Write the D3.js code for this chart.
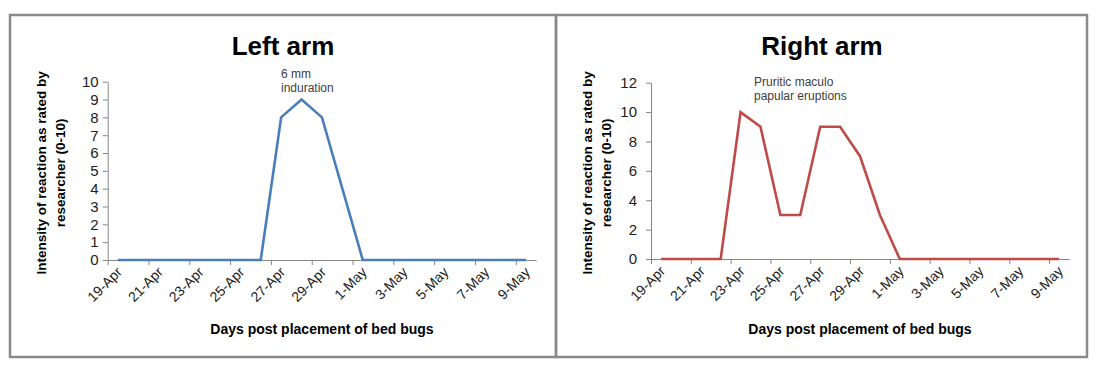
<!DOCTYPE html>
<meta charset="utf-8">
<style>
  body { margin: 0; background: #fff; }
  text { font-family: "Liberation Sans", Arial, sans-serif; }
</style>
<script src="https://d3js.org/d3.v7.min.js"></script>
<div id="chart"></div>
<script>

// days on the x axis (one point per day)
var days = ["19-Apr","20-Apr","21-Apr","22-Apr","23-Apr","24-Apr","25-Apr","26-Apr","27-Apr","28-Apr",
            "29-Apr","30-Apr","1-May","2-May","3-May","4-May","5-May","6-May","7-May","8-May","9-May"];

// intensity of reaction (0-10) for each arm
var leftArm  = [0,0,0,0,0,0,0,0,8,9,8,4,0,0,0,0,0,0,0,0,0];
var rightArm = [0,0,0,0,10,9,3,3,9,9,7,3,0,0,0,0,0,0,0,0,0];

var leftTicks  = [0,1,2,3,4,5,6,7,8,9,10];
var rightTicks = [0,2,4,6,8,10,12];

var leftNote  = ["6 mm", "induration"];
var rightNote = ["Pruritic maculo", "papular eruptions"];

var svg = d3.select("#chart").append("svg")
    .attr("width", 1100)
    .attr("height", 369);

// panel frames
svg.append("rect").attr("x", 10).attr("y", 15).attr("width", 546).attr("height", 342)
    .attr("fill", "none").attr("stroke", "#8a8a8a").attr("stroke-width", 2.5);
svg.append("rect").attr("x", 556).attr("y", 15).attr("width", 531).attr("height", 342)
    .attr("fill", "none").attr("stroke", "#8a8a8a").attr("stroke-width", 2.5);

function drawChart(opt) {
  var g = svg.append("g");

  // x: index of day, ticks at the start of every other day
  var x = d3.scaleLinear().domain([0, days.length]).range([opt.x0, opt.x1]);
  var y = d3.scaleLinear().domain([0, opt.yMax]).range([opt.yBottom, opt.yTop]);

  // y axis
  var yAxis = g.append("g")
      .attr("transform", "translate(" + opt.x0 + ",0)")
      .call(d3.axisLeft(y).tickValues(opt.yTicks).tickSizeInner(5).tickSizeOuter(0).tickPadding(opt.yPad));
  yAxis.select(".domain").attr("stroke", "#868686");
  yAxis.selectAll(".tick line").attr("stroke", "#868686");
  yAxis.selectAll(".tick text")
      .attr("font-size", 15).attr("fill", "#222")
      .style("font-family", "'Liberation Sans', Arial, sans-serif");

  // x axis
  var evenIdx = d3.range(0, days.length, 2);
  var xAxis = g.append("g")
      .attr("transform", "translate(0," + opt.yBottom + ")")
      .call(d3.axisBottom(x).tickValues(evenIdx).tickSizeInner(5).tickSizeOuter(0).tickFormat(""));
  xAxis.select(".domain").attr("stroke", "#868686");
  xAxis.selectAll(".tick line").attr("stroke", "#868686");

  // rotated date labels at the centre of the day
  g.selectAll(".xlab")
    .data(evenIdx)
    .enter()
    .append("text")
      .attr("class", "xlab")
      .attr("text-anchor", "end")
      .attr("font-size", 14)
      .attr("fill", "#222")
      .attr("transform", function(i) {
        return "translate(" + (x(i + 0.5) + 5) + "," + (opt.yBottom + 13) + ") rotate(-45)";
      })
      .text(function(i) { return days[i]; });

  // line
  var line = d3.line()
      .x(function(d, i) { return x(i + 0.5); })
      .y(function(d) { return y(d); });
  g.append("path")
      .datum(opt.values)
      .attr("fill", "none")
      .attr("stroke", opt.color)
      .attr("stroke-width", 2.6)
      .attr("stroke-linejoin", "miter")
      .attr("d", line);

  // title
  g.append("text")
      .attr("x", opt.titleX).attr("y", 55)
      .attr("text-anchor", "middle")
      .attr("font-size", 26).attr("font-weight", "bold")
      .text(opt.title);

  // annotation
  g.append("text")
      .attr("x", opt.noteX).attr("y", opt.noteY)
      .attr("font-size", 12).attr("fill", "#404040")
      .selectAll("tspan")
      .data(opt.note)
      .enter()
      .append("tspan")
        .attr("x", opt.noteX)
        .attr("dy", function(d, i) { return i ? 14 : 0; })
        .text(function(d) { return d; });

  // y axis title, two lines
  var yl = g.append("text")
      .attr("transform", "translate(" + opt.yLabX + "," + ((opt.yTop + opt.yBottom) / 2 + 2) + ") rotate(-90)")
      .attr("text-anchor", "middle")
      .attr("font-size", 13.5).attr("font-weight", "bold");
  yl.append("tspan").attr("x", 0).attr("dy", 0).text("Intensity of reaction  as rated by");
  yl.append("tspan").attr("x", 0).attr("dy", 19).text("researcher (0-10)");

  // x axis title
  g.append("text")
      .attr("x", (opt.x0 + opt.x1) / 2 + 0).attr("y", 334)
      .attr("text-anchor", "middle")
      .attr("font-size", 14).attr("font-weight", "bold")
      .text("Days post placement of bed bugs");
}

drawChart({
  title: "Left arm", titleX: 283,
  values: leftArm, color: "#4a7ebb",
  x0: 107.7, x1: 536.2, yTop: 81.7, yBottom: 260,
  yMax: 10, yTicks: leftTicks, yPad: 4,
  note: leftNote, noteX: 281, noteY: 78,
  yLabX: 46
});

drawChart({
  title: "Right arm", titleX: 822,
  values: rightArm, color: "#be4b48",
  x0: 651, x1: 1069, yTop: 82.7, yBottom: 259,
  yMax: 12, yTicks: rightTicks, yPad: 9,
  note: rightNote, noteX: 754, noteY: 86,
  yLabX: 592
});

</script>
